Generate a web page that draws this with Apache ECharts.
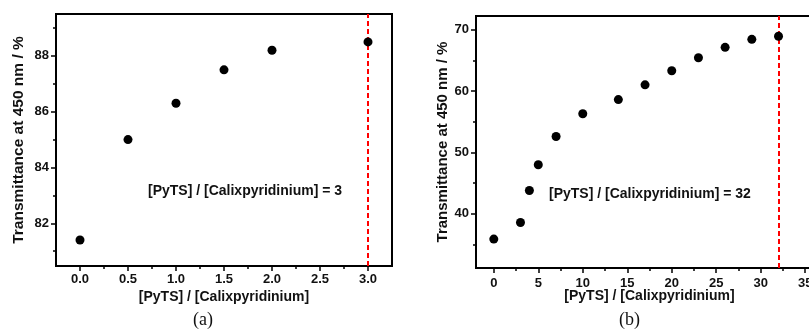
<!DOCTYPE html>
<html>
<head>
<meta charset="utf-8">
<script src="https://cdn.jsdelivr.net/npm/echarts@6/dist/echarts.min.js"></script>
<style>
html,body{margin:0;padding:0;background:#fff;}
#c{width:809px;height:331px;}
</style>
</head>
<body>
<div id="c"></div>
<script>
// ----- data (a) -----
const ratioA = [0, 0.5, 1.0, 1.5, 2.0, 3.0];
const transA = [81.4, 85.0, 86.3, 87.5, 88.2, 88.5];
const xTicksA = [0, 0.5, 1.0, 1.5, 2.0, 2.5, 3.0];
const xMinorA = [0.25, 0.75, 1.25, 1.75, 2.25, 2.75];
const yTicksA = [82, 84, 86, 88];
const yMinorA = [81, 83, 85, 87, 89];
const endpointA = 3;
// ----- data (b) -----
const ratioB = [0, 3, 4, 5, 7, 10, 14, 17, 20, 23, 26, 29, 32];
const transB = [35.9, 38.6, 43.8, 48.0, 52.6, 56.3, 58.6, 61.0, 63.3, 65.4, 67.1, 68.4, 68.9];
const xTicksB = [0, 5, 10, 15, 20, 25, 30, 35];
const xMinorB = [2.5, 7.5, 12.5, 17.5, 22.5, 27.5, 32.5];
const yTicksB = [40, 50, 60, 70];
const yMinorB = [35, 45, 55, 65];
const endpointB = 32;

const xName = '[PyTS] / [Calixpyridinium]';
const yName = 'Transmittance at 450 nm / %';
const noteA = '[PyTS] / [Calixpyridinium] = 3';
const noteB = '[PyTS] / [Calixpyridinium] = 32';

const FONT = 'Liberation Sans, Arial, sans-serif';
const lbl = {fontFamily: FONT, fontWeight: 'bold', fontSize: 13, color: '#111'};

function mainAxis(gridIndex, position, min, max, ticks, fmt, margin, extra) {
  return Object.assign({
    type: 'value', gridIndex, position, min, max,
    axisLine: {show: true, onZero: false, lineStyle: {color: '#000', width: 2}},
    axisTick: {show: true, inside: false, length: 5, customValues: ticks, lineStyle: {color: '#000', width: 1.5}},
    axisLabel: Object.assign({show: true, customValues: ticks, margin: margin, formatter: fmt}, lbl),
    splitLine: {show: false}
  }, extra || {});
}
function minorAxis(gridIndex, position, min, max, ticks) {
  return {
    type: 'value', gridIndex, position, offset: 0, min, max,
    axisLine: {show: false, onZero: false},
    axisTick: {show: true, inside: false, length: 3, customValues: ticks, lineStyle: {color: '#000', width: 1.5}},
    axisLabel: {show: false},
    splitLine: {show: false}
  };
}
const nameStyle = (size) => ({fontFamily: FONT, fontWeight: 'bold', fontSize: size, color: '#111'});

const chart = echarts.init(document.getElementById('c'), null, {renderer: 'canvas'});
chart.setOption({
  animation: false,
  backgroundColor: '#fff',
  grid: [
    {left: 56, top: 14, width: 336, height: 252, containLabel: false, outerBoundsMode: 'none', show: true, borderColor: '#000', borderWidth: 2},
    {left: 476, top: 16, width: 347, height: 252, containLabel: false, outerBoundsMode: 'none', show: true, borderColor: '#000', borderWidth: 2}
  ],
  xAxis: [
    mainAxis(0, 'bottom', -0.25, 3.25, xTicksA, v => v.toFixed(1), 7,
      {name: xName, nameLocation: 'middle', nameGap: 24, nameMoveOverlap: false, nameTextStyle: nameStyle(14)}),
    minorAxis(0, 'bottom', -0.25, 3.25, xMinorA),
    mainAxis(1, 'bottom', -2, 37, xTicksB, v => String(v), 9,
      {name: xName, nameLocation: 'middle', nameGap: 21, nameMoveOverlap: false, nameTextStyle: nameStyle(14)}),
    minorAxis(1, 'bottom', -2, 37, xMinorB)
  ],
  yAxis: [
    mainAxis(0, 'left', 80.47, 89.5, yTicksA, v => String(v), 7,
      {name: yName, nameLocation: 'middle', nameGap: 29, nameTextStyle: nameStyle(15.5)}),
    minorAxis(0, 'left', 80.47, 89.5, yMinorA),
    mainAxis(1, 'left', 31.2, 72.2, yTicksB, v => String(v), 7,
      {name: yName, nameLocation: 'middle', nameGap: 26, nameTextStyle: nameStyle(15)}),
    minorAxis(1, 'left', 31.2, 72.2, yMinorB)
  ],
  series: [
    {
      type: 'scatter', xAxisIndex: 0, yAxisIndex: 0,
      data: ratioA.map((x, i) => [x, transA[i]]),
      symbol: 'circle', symbolSize: 9, itemStyle: {color: '#000', opacity: 1},
      z: 5,
      markLine: {
        silent: true, symbol: 'none', label: {show: false},
        lineStyle: {color: '#ff0000', type: [5, 3], width: 2},
        data: [{xAxis: endpointA}]
      }
    },
    {
      type: 'scatter', xAxisIndex: 2, yAxisIndex: 2,
      data: ratioB.map((x, i) => [x, transB[i]]),
      symbol: 'circle', symbolSize: 9, itemStyle: {color: '#000', opacity: 1},
      z: 5,
      markLine: {
        silent: true, symbol: 'none', label: {show: false},
        lineStyle: {color: '#ff0000', type: [5, 3], width: 2},
        data: [{xAxis: endpointB}]
      }
    }
  ],
  graphic: [
    {type: 'text', left: 148, top: 184, style: {text: noteA, font: 'bold 14px ' + FONT, fill: '#111'}},
    {type: 'text', left: 549, top: 187, style: {text: noteB, font: 'bold 14px ' + FONT, fill: '#111'}},
    {type: 'text', left: 193, top: 311, style: {text: '(a)', font: '18px Liberation Serif, Times New Roman, serif', fill: '#111'}},
    {type: 'text', left: 619, top: 311, style: {text: '(b)', font: '18px Liberation Serif, Times New Roman, serif', fill: '#111'}}
  ]
});
</script>
</body>
</html>
